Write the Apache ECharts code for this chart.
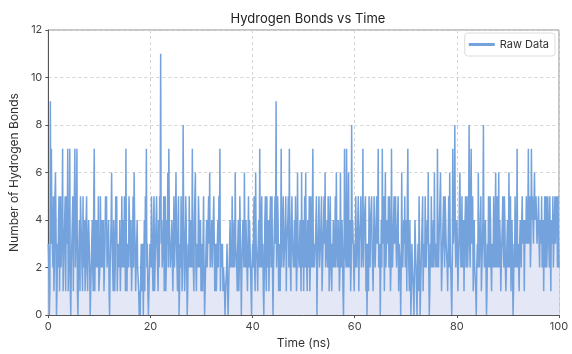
<!DOCTYPE html>
<html>
<head>
<meta charset="utf-8">
<script src="https://cdn.jsdelivr.net/npm/echarts@6/dist/echarts.min.js"></script>
<style>
  html, body { margin: 0; padding: 0; background: #fff; }
  #chart { width: 572px; height: 354px; }
</style>
</head>
<body>
<div id="chart"></div>
<script>
const timeStepNs = 0.1;
const bondCounts = [
  3,2,0,1,9,3,7,4,4,2,5,1,2,5,6,4,0,1,3,2,4,5,1,3,5,2,3,4,7,1,2,3,4,5,1,4,5,3,7,1,
  2,3,7,1,0,2,3,4,5,1,4,5,7,2,2,4,7,1,0,2,3,4,1,5,4,3,2,1,5,2,3,4,1,2,4,5,2,1,3,4,
  3,2,0,1,2,3,4,2,1,5,7,1,3,4,2,3,4,2,5,1,1,2,5,3,2,4,3,2,4,1,1,3,5,4,5,2,2,3,4,1,
  0,2,3,4,6,3,2,1,4,3,1,2,5,4,5,1,2,3,3,2,4,1,1,3,5,2,3,4,2,5,4,1,7,2,1,3,3,2,5,4,
  3,2,4,1,2,3,5,2,6,4,3,1,1,3,4,2,2,1,0,1,0,2,3,1,2,3,0,2,4,1,5,3,7,2,3,1,0,1,2,3,
  3,2,5,3,2,1,4,5,1,2,3,4,5,3,2,1,4,2,5,4,11,3,4,2,2,3,5,1,3,5,1,2,4,3,6,2,7,4,3,2,
  2,3,4,2,1,3,5,2,3,4,6,3,2,1,4,5,0,1,3,2,5,3,1,2,8,4,3,1,2,5,4,2,0,1,3,2,5,3,2,4,
  3,2,7,3,2,1,4,5,6,2,1,3,3,2,5,4,2,3,4,1,3,2,1,3,5,2,0,1,2,3,4,2,3,4,5,3,6,2,2,3,
  4,2,3,4,5,3,1,2,3,1,2,3,4,2,5,3,7,1,3,2,2,3,1,2,2,1,0,1,1,2,3,1,0,1,2,3,4,2,3,2,
  5,3,2,3,4,2,6,3,3,2,1,3,4,1,2,5,5,2,0,2,3,4,4,2,6,3,2,4,3,2,1,3,5,2,4,3,2,1,0,2,
  3,2,4,5,2,1,6,3,3,2,1,3,4,2,7,3,2,4,5,2,3,1,0,2,4,5,2,1,5,2,3,4,1,3,4,5,2,3,5,2,
  0,2,3,4,5,3,9,2,2,5,4,1,3,2,1,3,7,2,3,4,5,2,2,3,4,5,1,3,3,4,5,2,7,3,2,1,4,5,3,3,
  2,3,4,2,5,3,1,2,6,3,3,2,2,4,4,1,6,2,3,4,1,3,5,2,6,3,2,1,4,2,3,5,1,2,5,3,2,4,7,2,
  3,2,2,3,4,5,0,2,3,4,5,2,2,3,4,5,1,2,3,4,5,3,6,2,2,3,4,2,5,4,1,2,5,3,2,1,3,2,4,3,
  2,3,5,2,6,3,3,2,4,3,1,2,6,3,2,4,3,1,0,2,7,3,3,2,7,4,2,3,6,2,3,4,1,2,8,3,4,3,2,1,
  3,2,5,3,2,3,4,5,1,3,3,4,5,2,2,3,7,2,3,4,4,5,1,3,0,2,3,1,5,3,2,4,4,5,3,2,1,3,5,3,
  2,3,4,5,3,4,7,2,2,3,0,2,4,2,7,3,3,5,1,3,6,2,2,4,4,3,5,2,5,3,1,2,7,3,2,3,4,5,3,4,
  5,3,2,3,4,5,1,3,3,2,0,2,6,3,2,2,4,3,5,2,3,4,1,5,7,3,2,1,4,2,0,1,3,2,2,1,0,2,4,3,
  2,1,0,2,3,1,5,3,0,1,2,3,4,5,1,3,3,2,5,3,2,2,4,3,6,2,0,1,3,2,5,3,2,3,4,2,6,3,3,2,
  3,2,7,3,2,3,4,5,6,3,1,2,3,4,5,3,2,5,4,3,3,2,1,3,5,2,6,3,2,1,0,2,7,3,3,4,8,3,2,2,
  4,3,1,2,3,5,6,3,2,3,5,2,3,4,1,3,4,5,2,3,5,2,3,4,8,3,2,2,7,3,3,5,1,3,4,2,2,1,0,2,
  3,2,6,3,2,3,4,5,1,2,3,4,8,3,2,3,4,2,0,1,3,2,5,3,2,5,4,2,1,3,3,2,5,3,2,4,6,2,3,5,
  2,3,6,2,4,3,1,2,3,4,5,3,2,5,4,2,1,2,3,4,2,3,6,2,3,5,1,3,4,2,0,1,3,2,5,3,2,3,7,2,
  3,2,1,3,4,3,2,4,5,3,3,4,1,3,4,3,5,4,3,4,7,3,4,5,2,3,7,4,5,4,3,3,6,4,4,5,5,3,3,4,
  5,3,2,4,4,3,5,2,3,4,1,3,5,2,4,5,2,3,5,4,3,2,5,3,1,4,4,3,5,2,2,4,5,3,3,5,4,2,5,3,
  2
];
const xTicks = [0, 20, 40, 60, 80, 100];
const yTicks = [0, 2, 4, 6, 8, 10, 12];

const points = bondCounts.map((v, i) => [+(i * timeStepNs).toFixed(1), v]);

const FONT = 'Inter, "Noto Sans", sans-serif';
const chart = echarts.init(document.getElementById('chart'));

chart.setOption({
  animation: false,
  title: {
    text: 'Hydrogen Bonds vs Time',
    left: 303,
    textAlign: 'center',
    top: 8,
    textStyle: { fontFamily: FONT, fontSize: 13, fontWeight: 'normal', color: '#222' }
  },
  legend: {
    data: [{ name: 'Raw Data', icon: 'rect' }],
    right: 17,
    top: 33,
    itemWidth: 26,
    itemHeight: 3,
    itemGap: 6,
    padding: [6, 6, 6, 4],
    borderColor: '#dcdcdc',
    borderWidth: 1,
    borderRadius: 3,
    backgroundColor: '#fff',
    textStyle: { fontFamily: FONT, fontSize: 11, color: '#333' }
  },
  grid: {
    left: 48,
    right: 13,
    top: 30,
    bottom: 33,
    show: true,
    borderColor: '#8a8a8a',
    borderWidth: 1
  },
  xAxis: {
    type: 'value',
    min: xTicks[0],
    max: xTicks[xTicks.length - 1],
    interval: 20,
    name: 'Time (ns)',
    nameLocation: 'middle',
    nameGap: 20,
    nameTextStyle: { fontFamily: FONT, fontSize: 12, color: '#333' },
    axisLine: { lineStyle: { color: '#555' } },
    axisTick: { show: true, length: 3, lineStyle: { color: '#555' } },
    axisLabel: { fontFamily: FONT, fontSize: 11, color: '#444', margin: 6 },
    splitLine: { show: true, lineStyle: { type: [3, 3], color: '#d4d4d4' } }
  },
  yAxis: {
    type: 'value',
    min: yTicks[0],
    max: yTicks[yTicks.length - 1],
    interval: 2,
    name: 'Number of Hydrogen Bonds',
    nameLocation: 'middle',
    nameGap: 23,
    nameTextStyle: { fontFamily: FONT, fontSize: 12, color: '#333' },
    axisLine: { show: true, lineStyle: { color: '#555' } },
    axisTick: { show: true, length: 3, lineStyle: { color: '#555' } },
    axisLabel: { fontFamily: FONT, fontSize: 11, color: '#444', margin: 6 },
    splitLine: { show: true, lineStyle: { type: [3, 3], color: '#d4d4d4' } }
  },
  series: [
    {
      name: 'Raw Data',
      type: 'line',
      data: points,
      showSymbol: false,
      symbol: 'none',
      itemStyle: { color: '#74a2dc' },
      lineStyle: { color: '#74a2dc', width: 1.5 },
      areaStyle: { color: '#e4e8f6', opacity: 1 }
    }
  ]
});
</script>
</body>
</html>
